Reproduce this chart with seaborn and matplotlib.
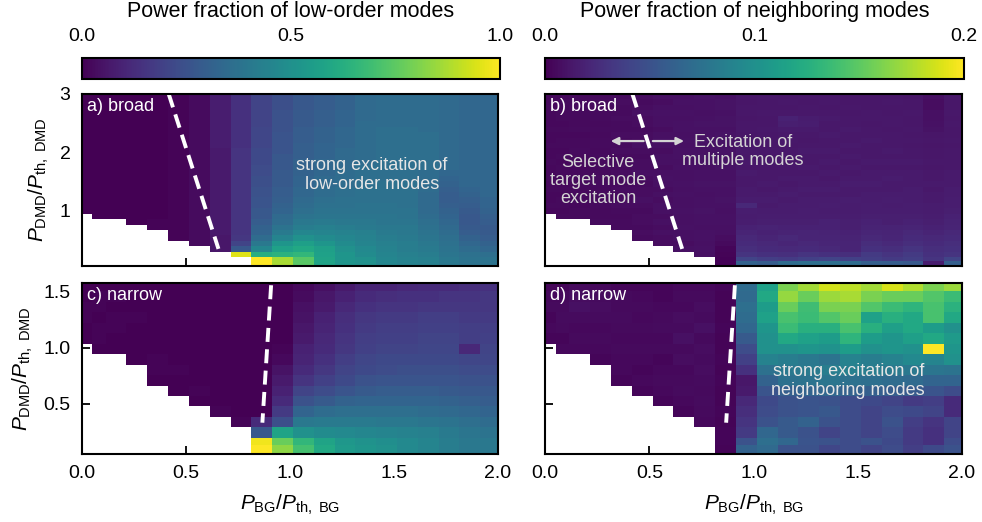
import numpy as np
import matplotlib
matplotlib.use("Agg")
import matplotlib.pyplot as plt
import seaborn as sns

# ---------------------------------------------------------------- grid ---
# P_BG / P_th,BG : cell edges of the background-pump sweep
bg_edges = [0.0, 0.05] + [round(0.115 + 0.1 * k, 3) for k in range(19)] + [2.0]
# P_DMD / P_th,DMD : cell edges of the DMD-power sweep
dmd_step = 0.0935
dmd_edges_broad = [0.05, 0.127] + [round(0.195 + dmd_step * k, 4) for k in range(31)]
dmd_edges_narrow = [0.05, 0.127] + [round(0.195 + dmd_step * k, 4) for k in range(16)]

# lowest DMD-power steps without a measurement, per P_BG column
missing_broad = [10, 9, 9, 8, 7, 5, 4, 3, 2] + [0] * 12
missing_narrow = [11, 10, 10, 9, 7, 6, 5, 4, 3] + [0] * 12

# ---------------------------------------------------------------- data ---
# one list per P_BG column, ordered from low to high P_DMD
# a) broad: power fraction of low-order modes [%]
low_broad = [
    [0,0,0,0,0,0,0,0,0,0, 0,0,0,0,0,0,0,0,0,0, 0,0],
    [0,0,0,0,0,0,0,0,0,0, 0,0,0,0,0,0,0,0,0,0, 0,0,0],
    [0,0,0,0,0,0,0,0,0,0, 0,0,0,0,0,0,0,0,0,0, 0,0,0],
    [0,0,0,0,0,0,0,0,0,0, 0,0,0,0,0,0,0,0,0,0, 0,0,0,0],
    [1,1,0,0,0,0,0,0,0,0, 0,0,0,0,0,0,0,0,0,0, 0,0,0,0,0],
    [1,1,1,1,1,1,1,1,1,1, 1,1,1,1,1,1,1,1,1,1, 1,1,1,1,1,1,1],
    [3,3,3,3,3,3,3,3,3,3, 3,3,3,3,3,3,3,3,3,3, 3,3,3,3,3,3,3,3],
    [6,6,6,7,7,7,7,7,7,7, 7,7,7,7,7,7,7,7,7,8, 8,8,8,8,8,8,8,8,8],
    [95,27,20,16,15,15,15,15,15,15, 15,15,15,15,15,15,15,15,15,15, 14,14,14,14,14,14,14,14,14,14],
    [100,100,62,46,40,35,32,31,29,27, 27,26,26,25,25,24,24,23,23,22, 22,22,21,21,21,21,20,20,20,20, 20,20],
    [87,87,64,57,52,45,41,38,35,34, 32,31,30,29,29,28,28,28,27,27, 27,26,26,26,26,25,25,25,25,24, 24,24],
    [74,74,66,60,56,50,46,42,40,38, 36,35,34,33,33,32,32,31,31,31, 30,30,30,29,29,29,28,28,28,27, 27,27],
    [58,58,57,56,52,48,45,43,41,39, 38,37,36,35,35,34,34,33,33,33, 32,32,32,31,31,31,30,30,30,29, 29,29],
    [52,52,52,50,48,46,44,42,40,39, 38,37,37,36,36,35,35,35,34,34, 34,34,33,33,33,33,32,32,32,31, 31,31],
    [50,50,48,47,45,44,43,41,40,39, 38,38,37,37,37,36,36,36,36,35, 35,35,35,35,35,35,35,34,34,34, 34,34],
    [46,46,45,44,43,42,41,40,39,39, 38,38,37,37,37,37,36,36,36,36, 36,36,36,36,36,36,35,35,35,35, 35,35],
    [44,44,43,42,42,41,40,40,39,38, 38,37,37,37,37,37,36,36,36,36, 36,36,36,36,36,36,35,35,35,35, 35,35],
    [43,43,42,41,40,39,38,37,36,35, 34,34,34,34,35,35,35,35,36,36, 36,36,36,36,36,35,35,35,35,35, 35,35],
    [40,40,39,38,37,36,35,34,33,32, 31,30,29,29,30,31,32,33,34,34, 34,34,34,34,34,34,34,34,34,34, 34,34],
    [38,38,37,35,33,31,29,28,27,27, 28,29,30,31,32,33,33,33,33,33, 33,33,33,33,33,33,33,33,33,33, 33,33],
    [38,38,36,33,31,29,28,28,29,30, 31,32,32,33,33,33,33,33,33,33, 33,33,33,33,33,33,33,33,33,33, 33,33],
]

# b) broad: power fraction of neighboring modes [per mille]
nb_broad = [
    [4,5,4,4,5,4,5,4,4,5, 4,4,5,4,4,5,4,4,4,5, 4,4],
    [5,4,5,5,4,5,4,4,5,5, 4,5,4,5,5,4,5,4,5,5, 4,5,4],
    [5,5,4,6,5,5,5,6,5,4, 5,5,6,5,5,4,6,5,5,5, 6,5,5],
    [6,5,5,6,5,6,5,6,6,5, 6,5,6,5,6,6,5,6,5,6, 6,5,6,5],
    [6,6,5,6,7,6,6,7,6,6, 7,6,6,5,7,6,6,7,6,6, 7,6,6,7,6],
    [6,7,6,7,7,6,7,8,7,7, 6,7,8,7,7,6,7,8,7,7, 6,7,7,8,7,6,7],
    [7,7,8,7,8,7,8,8,7,8, 7,8,9,8,7,8,8,7,8,9, 8,7,8,8,9,8,7,8],
    [8,7,8,8,9,8,8,9,8,8, 9,8,9,8,8,9,8,9,9,8, 9,8,9,9,8,9,8,9,8],
    [8,9,8,9,9,8,9,9,10,9, 9,8,9,10,9,9,8,9,10,9, 9,10,9,9,10,9,8,9,9,10],
    [1,1,2,3,5,7,8,8,9,9, 8,9,10,9,9,10,9,9,10,10, 9,10,9,10,10,9,10,10,9,10, 10,9],
    [62,40,30,26,24,22,20,18,16,15, 16,22,15,14,14,13,13,14,12,13, 12,13,12,12,11,12,12,11,12,12, 11,12],
    [58,36,28,24,22,20,18,19,17,16, 15,14,15,14,13,14,13,13,12,13, 12,13,12,12,12,13,12,12,13,12, 12,13],
    [70,35,27,23,21,22,19,18,17,16, 15,15,14,15,14,13,14,13,13,12, 13,13,12,13,13,14,17,18,13,12, 13,12],
    [72,38,30,24,22,20,20,18,17,16, 16,15,15,14,15,14,14,13,14,13, 13,14,13,12,13,14,16,15,13,13, 12,13],
    [72,40,28,22,21,20,19,18,18,16, 15,16,15,14,15,14,13,14,13,14, 13,14,13,13,14,13,13,14,13,12, 13,13],
    [70,38,26,20,20,19,18,17,17,16, 15,15,16,14,14,15,14,13,14,13, 14,13,14,13,13,14,13,13,12,13, 12,12],
    [60,36,34,28,25,22,21,19,18,17, 16,16,15,15,14,15,14,14,13,14, 13,13,13,14,13,13,12,13,13,12, 12,12],
    [58,34,30,26,23,21,20,19,17,17, 16,15,16,15,14,14,15,14,13,14, 13,14,13,13,13,12,13,13,12,12, 13,12],
    [55,36,34,30,26,24,22,20,18,17, 16,16,15,15,15,14,14,14,13,14, 13,13,12,13,12,13,12,12,13,12, 12,11],
    [15,30,28,26,24,22,20,18,17,16, 15,15,14,14,13,14,13,13,12,13, 12,12,11,12,11,10,9,8,8,7, 7,8],
    [60,40,30,28,26,24,22,20,19,18, 17,16,16,15,15,14,14,14,13,13, 13,13,12,13,12,12,13,12,13,12, 12,13],
]

# c) narrow: power fraction of low-order modes [%]
low_narrow = [
    [0,0,1,1,0,0],
    [0,1,1,0,1,1,0],
    [0,0,1,1,0,1,0],
    [0,0,0,0,1,0,0,0],
    [0,1,1,0,0,0,0,0,0,0],
    [0,0,1,0,0,0,0,0,0,0,0],
    [0,1,0,0,0,0,0,0,0,0,0,0],
    [1,0,0,0,0,0,0,0,0,0,0,0,0],
    [1,0,0,0,0,0,0,0,0,0,0,0,0,0],
    [100,98,27,12,0,0,0,0,0,0, 0,0,0,0,0,0,0],
    [83,77,58,24,17,12,9,7,5,2, 1,0,0,0,0,0,0],
    [70,66,50,40,32,25,20,15,12,10, 9,7,6,5,4,3,2],
    [60,58,48,41,35,28,23,19,16,14, 12,11,10,9,7,6,4],
    [54,53,47,41,36,31,26,22,20,18, 16,15,14,13,11,9,7],
    [52,51,46,41,36,32,28,25,22,21, 19,18,17,16,14,12,10],
    [50,49,45,40,36,32,29,26,23,22, 20,19,18,17,15,13,10],
    [47,47,44,40,36,32,29,26,24,22, 20,19,18,17,15,14,11],
    [45,45,43,39,35,32,29,26,24,22, 21,20,19,18,16,14,12],
    [42,42,41,38,34,31,28,26,24,22, 21,20,19,18,16,15,12],
    [40,40,39,36,33,30,27,25,23,21, 11,18,18,17,16,15,13],
    [40,40,38,35,32,29,27,25,23,21, 20,19,18,17,16,16,14],
]

# d) narrow: power fraction of neighboring modes [per mille]
nb_narrow = [
    [3,4,3,5,4,3],
    [4,3,5,6,5,4,3],
    [4,5,4,6,8,7,5],
    [3,4,5,4,6,7,6,4],
    [3,4,4,5,4,5,6,5,5,3],
    [3,4,3,4,5,4,5,4,5,4,3],
    [3,4,5,4,3,5,4,6,5,4,3,3],
    [3,4,6,5,4,7,5,8,6,7,4,5,4],
    [4,5,6,5,6,7,6,7,5,8,6,7,5,4],
    [2,3,3,2,3,2,2,3,2,3, 2,2,3,2,2,2,3],
    [62,50,34,30,26,22,14,12,28,38, 46,56,66,70,72,68,70],
    [68,72,66,50,46,44,52,62,74,88, 100,100,104,114,110,120,114],
    [50,66,56,56,50,50,60,74,80,84, 100,120,136,142,154,168,160],
    [50,52,50,62,52,52,64,76,82,80, 104,114,126,136,138,154,172],
    [42,50,40,50,54,50,66,78,84,76, 102,110,126,146,160,170,186],
    [46,46,46,46,46,46,62,74,86,88, 110,130,142,154,160,174,180],
    [40,50,40,40,40,44,60,72,84,84, 100,110,126,114,146,160,172],
    [46,44,46,50,46,40,58,70,82,88, 104,104,112,126,136,154,188],
    [36,34,34,36,44,34,56,68,80,94, 100,112,120,120,130,154,176],
    [44,28,28,30,40,36,52,64,78,90, 200,120,110,142,142,146,160],
    [50,46,40,40,24,24,46,64,76,100, 104,108,100,120,128,136,170],
]

# regime boundaries (P_BG, P_DMD end points)
boundary_broad = ([0.418, 0.657], [3.0, 0.339])
boundary_narrow = ([0.910, 0.868], [1.56, 0.33])


# ------------------------------------------------------------- helpers ---
def assemble(columns, missing, n_rows):
    grid = np.full((n_rows, len(columns)), np.nan)
    for j, (col, skip) in enumerate(zip(columns, missing)):
        grid[skip:skip + len(col), j] = col
    return grid


def edge_scale(edges):
    """Map heatmap cell index <-> physical value for irregular cell edges."""
    e = np.asarray(edges, dtype=float)
    k = np.arange(e.size, dtype=float)

    def forward(i):
        i = np.asarray(i, dtype=float)
        v = np.interp(i, k, e)
        v = np.where(i < 0, e[0] + i * (e[1] - e[0]), v)
        v = np.where(i > k[-1], e[-1] + (i - k[-1]) * (e[-1] - e[-2]), v)
        return v

    def inverse(v):
        v = np.asarray(v, dtype=float)
        i = np.interp(v, e, k)
        i = np.where(v < e[0], (v - e[0]) / (e[1] - e[0]), i)
        i = np.where(v > e[-1], k[-1] + (v - e[-1]) / (e[-1] - e[-2]), i)
        return i

    return forward, inverse


# --------------------------------------------------------------- style ---
sns.set_theme(style="ticks")
plt.rcParams.update({
    "font.family": ["Liberation Sans", "DejaVu Sans"],
    "mathtext.fontset": "custom",
    "mathtext.rm": "Liberation Sans",
    "mathtext.it": "Liberation Sans:italic",
    "mathtext.bf": "Liberation Sans:bold",
    "axes.edgecolor": "black",
    "axes.linewidth": 1.5,
    "text.color": "black",
    "axes.labelcolor": "black",
    "xtick.color": "black",
    "ytick.color": "black",
})

W, H = 982, 522
fig = plt.figure(figsize=(W / 100, H / 100), dpi=100)


def box(left, top, right, bottom):
    return [left / W, 1 - bottom / H, (right - left) / W, (bottom - top) / H]


ax_a = fig.add_axes(box(81.7, 94, 498, 265.7))
ax_b = fig.add_axes(box(545.3, 94, 962, 265.7))
ax_c = fig.add_axes(box(81.7, 283, 498, 454))
ax_d = fig.add_axes(box(545.3, 283, 962, 454))
cax_low = fig.add_axes(box(81.7, 58, 500, 79))
cax_nb = fig.add_axes(box(545.3, 58, 964, 79))

TICK = 14
LABEL = 15
NOTE = 13


def draw_panel(ax, columns, missing, dmd_edges, unit, vmax, ytop, yticks,
               boundary, show_xlabels, show_ylabels):
    grid = assemble(columns, missing, len(dmd_edges) - 1) / unit
    sns.heatmap(grid, ax=ax, cmap="viridis", vmin=0, vmax=vmax, cbar=False,
                xticklabels=False, yticklabels=False)
    fx, ix = edge_scale(bg_edges)
    fy, iy = edge_scale(dmd_edges)
    ax.set_xscale("function", functions=(fx, ix))
    ax.set_yscale("function", functions=(fy, iy))

    bx, by = boundary
    ax.plot(ix(bx), iy(by), color="white", lw=2.8, ls=(0, (3.6, 1.9)),
            solid_capstyle="butt")

    ax.set_xlim(0, len(bg_edges) - 1)
    ax.set_ylim(0, float(iy(ytop)))

    for s in ax.spines.values():
        s.set_visible(True)
        s.set_color("black")
        s.set_linewidth(1.5)

    xt = [0.0, 0.5, 1.0, 1.5, 2.0]
    ax.set_xticks(ix(np.array(xt)))
    ax.set_xticklabels([f"{v:.1f}" for v in xt])
    ax.set_yticks(iy(np.array(yticks)))
    ax.set_yticklabels([f"{v:g}" if ytop > 2 else f"{v:.1f}" for v in yticks],
                       rotation=0)
    ax.tick_params(direction="in", length=6, width=1.3, pad=8,
                   labelsize=TICK, bottom=True, left=True, top=False, right=False,
                   labelbottom=show_xlabels, labelleft=show_ylabels)
    return ax.collections[0]


mesh_low = draw_panel(ax_a, low_broad, missing_broad, dmd_edges_broad, 100.0, 1.0,
                      3.0, [1, 2, 3], boundary_broad, False, True)
mesh_nb = draw_panel(ax_b, nb_broad, missing_broad, dmd_edges_broad, 1000.0, 0.2,
                     3.0, [1, 2, 3], boundary_broad, False, False)
draw_panel(ax_c, low_narrow, missing_narrow, dmd_edges_narrow, 100.0, 1.0,
           1.58, [0.5, 1.0, 1.5], boundary_narrow, True, True)
draw_panel(ax_d, nb_narrow, missing_narrow, dmd_edges_narrow, 1000.0, 0.2,
           1.58, [0.5, 1.0, 1.5], boundary_narrow, True, False)

# ----------------------------------------------------------- labelling ---
ylab = r"$P_{\mathrm{DMD}}/P_{\mathrm{th,\ DMD}}$"
xlab = r"$P_{\mathrm{BG}}/P_{\mathrm{th,\ BG}}$"
for ax in (ax_a, ax_c):
    ax.set_ylabel(ylab, fontsize=LABEL, labelpad=6)
for ax in (ax_c, ax_d):
    ax.set_xlabel(xlab, fontsize=LABEL, labelpad=8)

for ax, tag in ((ax_a, "a) broad"), (ax_b, "b) broad"),
                (ax_c, "c) narrow"), (ax_d, "d) narrow")):
    ax.text(0.012, 0.928, tag, transform=ax.transAxes, color="white",
            fontsize=NOTE, ha="left", va="center")

soft = "#e6e6e6"
ax_a.text(0.697, 0.528, "strong excitation of\nlow-order modes", transform=ax_a.transAxes,
          color=soft, fontsize=NOTE, ha="center", va="center", linespacing=1.1)
ax_d.text(0.727, 0.427, "strong excitation of\nneighboring modes", transform=ax_d.transAxes,
          color=soft, fontsize=NOTE, ha="center", va="center", linespacing=1.1)

grey = "#d4d4d4"
ax_b.text(0.475, 0.667, "Excitation of\nmultiple modes", transform=ax_b.transAxes,
          color=grey, fontsize=NOTE, ha="center", va="center", linespacing=1.1)
ax_b.text(0.127, 0.497, "Selective\ntarget mode\nexcitation", transform=ax_b.transAxes,
          color=grey, fontsize=NOTE, ha="center", va="center", linespacing=1.1)
arrow = dict(arrowstyle="-|>", color=grey, lw=1.6, mutation_scale=11,
             shrinkA=0, shrinkB=0)
ax_b.annotate("", xy=(0.157, 0.726), xytext=(0.236, 0.726),
              xycoords="axes fraction", textcoords="axes fraction", arrowprops=arrow)
ax_b.annotate("", xy=(0.333, 0.726), xytext=(0.258, 0.726),
              xycoords="axes fraction", textcoords="axes fraction", arrowprops=arrow)

# ----------------------------------------------------------- colorbars ---
for cax, mesh, ticks, title in (
        (cax_low, mesh_low, [0.0, 0.5, 1.0], "Power fraction of low-order modes"),
        (cax_nb, mesh_nb, [0.0, 0.1, 0.2], "Power fraction of neighboring modes")):
    cb = fig.colorbar(mesh, cax=cax, orientation="horizontal")
    cb.set_ticks(ticks)
    cb.set_ticklabels([f"{t:.1f}" for t in ticks])
    cb.outline.set_linewidth(1.5)
    cb.outline.set_edgecolor("black")
    cax.xaxis.set_ticks_position("top")
    cax.xaxis.set_label_position("top")
    cax.tick_params(direction="in", length=7, width=1.3, labelsize=TICK, pad=9,
                    bottom=False, top=True, labeltop=True, labelbottom=False)
    cb.set_label(title, fontsize=15.5, labelpad=8)

fig.savefig("out.png", dpi=100)
